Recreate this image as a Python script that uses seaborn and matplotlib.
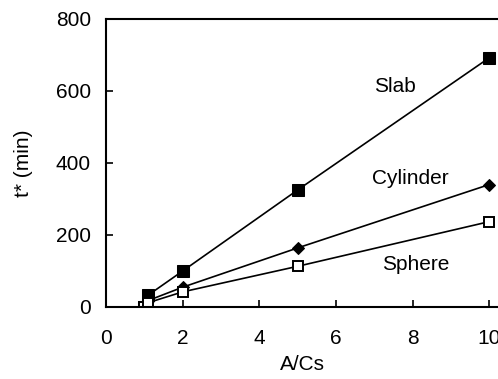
import matplotlib
matplotlib.use("Agg")
import matplotlib.pyplot as plt
import seaborn as sns
import pandas as pd

sns.set_theme(style="ticks")
plt.rcParams['font.family'] = ['Liberation Sans', 'DejaVu Sans']
plt.rcParams['text.color'] = 'black'
plt.rcParams['axes.labelcolor'] = 'black'

x_vals = [1, 1.1, 2, 5, 10]
slab = [0, 33, 100, 325, 692]
cylinder = [0, 18, 55, 164, 340]
sphere = [0, 12, 42, 113, 237]
series_names = ["Slab", "Cylinder", "Sphere"]
xticks = [0, 2, 4, 6, 8, 10]
yticks = [0, 200, 400, 600, 800]

df = pd.DataFrame({
    "x": x_vals * 3,
    "y": slab + cylinder + sphere,
    "series": [s for s in series_names for _ in x_vals],
})

fig = plt.figure(figsize=(4.98, 3.79), dpi=100)
ax = fig.add_axes([0.213, 0.19, 0.787, 0.76])

styles = {
    "Slab": dict(marker="s", markersize=8, markerfacecolor="black", markeredgecolor="black"),
    "Cylinder": dict(marker="D", markersize=6.5, markerfacecolor="black", markeredgecolor="black"),
    "Sphere": dict(marker="s", markersize=6.5, markerfacecolor="white", markeredgecolor="black", markeredgewidth=1.4),
}
for name in ["Slab", "Cylinder", "Sphere"]:
    sub = df[df["series"] == name]
    sns.lineplot(data=sub, x="x", y="y", ax=ax, color="black", linewidth=1.2,
                 legend=False, **styles[name])

ax.set_xlim(0, 10.23)
ax.set_ylim(0, 800)
ax.set_xticks(xticks)
ax.set_yticks(yticks)
ax.set_xticklabels([str(t) for t in xticks])
ax.set_yticklabels([str(t) for t in yticks])
ax.tick_params(direction="in", length=5, width=1.2, labelsize=15, colors="black")
ax.tick_params(axis="x", pad=16)
ax.tick_params(axis="y", pad=11)
for side in ["left", "bottom", "top"]:
    ax.spines[side].set_linewidth(1.5)
    ax.spines[side].set_color("black")
ax.spines["right"].set_visible(False)
ax.set_xlabel("A/Cs", fontsize=15, labelpad=5)
ax.set_ylabel("t* (min)", fontsize=15, labelpad=16)

ax.text(7.55, 611, "Slab", fontsize=15, ha="center", va="center")
ax.text(7.94, 358, "Cylinder", fontsize=15, ha="center", va="center")
ax.text(8.09, 119, "Sphere", fontsize=15, ha="center", va="center")

fig.savefig("out.png", dpi=100)
